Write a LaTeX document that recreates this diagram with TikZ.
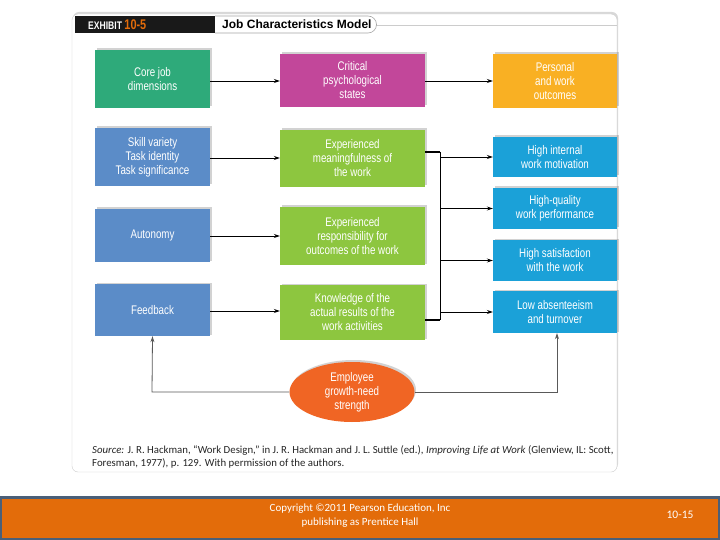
\documentclass[tikz,border=0pt]{standalone}
\usepackage{fontspec}
\setmainfont{Liberation Sans}
\newfontfamily\cond[FakeStretch=0.78]{Liberation Sans}
\newfontfamily\cali{Carlito}
\usetikzlibrary{arrows.meta,shapes.geometric,shadows}
\definecolor{cgreen}{HTML}{2EAA7A}
\definecolor{cmag}{HTML}{C2479A}
\definecolor{corange}{HTML}{F9B023}
\definecolor{cblue}{HTML}{5B8CC8}
\definecolor{clgreen}{HTML}{8DC63F}
\definecolor{ccyan}{HTML}{1BA1D8}
\definecolor{cell}{HTML}{F06524}
\definecolor{cfoot}{HTML}{E36C0A}
\definecolor{cbord}{HTML}{4A5F78}
\tikzset{
 bx/.style={draw=none,inner sep=0pt,align=center,text=white,font=\cond\fontsize{12.5}{14}\selectfont,drop shadow={shadow xshift=1.5pt,shadow yshift=1.5pt,opacity=0.35}},
 arr/.style={-{Stealth[length=6pt,width=4pt]},line width=0.7pt},
 gl/.style={line width=0.8pt,draw=black!65}
}
\begin{document}
\begin{tikzpicture}[x=1pt,y=-1pt]
\useasboundingbox (0,0) rectangle (720,540);
\fill[white] (0,0) rectangle (720,540);
% panel
\draw[draw=gray!40,fill=white,rounded corners=6pt,drop shadow={shadow xshift=1pt,shadow yshift=2pt,opacity=0.3}] (72,14) rectangle (617,472);
\fill[black!90] (75,16) rectangle (215,33);
\node[anchor=west,inner sep=0pt,text=white,font=\cond\bfseries\fontsize{11}{12}\selectfont] (ex) at (88,25) {EXHIBIT \textcolor{cfoot}{\fontsize{14}{14}\selectfont 10-5}};
\draw[gray!40] (376,25) -- (617,25);
\draw[gray!70,line width=0.6pt] (215,16) -- (368,16) arc[start angle=-90,end angle=90,radius=8.5] -- (215,33);
\node[anchor=west,inner sep=0pt,font=\fontsize{12}{13}\selectfont\bfseries] (tt) at (222,24.5) {Job Characteristics Model};
% row 0
\node[bx,fill=cgreen,minimum width=115,minimum height=58] (a0) at (152.5,79) {Core job\\dimensions};
\node[bx,fill=cmag,minimum width=145,minimum height=53] (b0) at (352.5,80.5) {Critical\\psychological\\states};
\node[bx,fill=corange,minimum width=124,minimum height=54] (c0) at (555,81) {Personal\\and work\\outcomes};
\draw[arr] (a0.east |- 0,81) -- (b0.west |- 0,81);
\draw[arr] (b0.east |- 0,81) -- (c0.west |- 0,81);
% column 1
\node[bx,fill=cblue,minimum width=115,minimum height=58] (a1) at (152.5,157) {Skill variety\\Task identity\\Task significance};
\node[bx,fill=cblue,minimum width=115,minimum height=53] (a2) at (152.5,235.5) {Autonomy};
\node[bx,fill=cblue,minimum width=115,minimum height=52] (a3) at (152.5,310) {Feedback};
% column 2
\node[bx,fill=clgreen,minimum width=145,minimum height=57] (b1) at (352.5,158.5) {Experienced\\meaningfulness of\\the work};
\node[bx,fill=clgreen,minimum width=145,minimum height=58] (b2) at (352.5,236) {Experienced\\responsibility for\\outcomes of the work};
\node[bx,fill=clgreen,minimum width=145,minimum height=55] (b3) at (352.5,312.5) {Knowledge of the\\actual results of the\\work activities};
\draw[arr] (a1.east |- 0,158) -- (b1.west |- 0,158);
\draw[arr] (a2.east |- 0,236) -- (b2.west |- 0,236);
\draw[arr] (a3.east |- 0,311) -- (b3.west |- 0,311);
% column 3
\node[bx,fill=ccyan,minimum width=124,minimum height=40] (c1) at (555,157) {High internal\\work motivation};
\node[bx,fill=ccyan,minimum width=124,minimum height=41] (c2) at (555,208.5) {High-quality\\work performance};
\node[bx,fill=ccyan,minimum width=124,minimum height=41] (c3) at (555,260.5) {High satisfaction\\with the work};
\node[bx,fill=ccyan,minimum width=124,minimum height=42] (c4) at (555,312) {Low absenteeism\\and turnover};
% bar
\coordinate (t) at (440,152);
\coordinate (bt) at (440,320);
\draw[line width=1.3pt] (b1.east |- t) -- (t);
\draw[line width=1.3pt] (b3.east |- bt) -- (bt);
\draw[line width=0.7pt] (t) -- (bt);
\draw[arr] (440,157) -- (c1.west);
\draw[arr,line width=1.2pt] (440,208.5) -- (c2.west);
\draw[arr] (440,260.5) -- (c3.west);
\draw[arr] (440,312) -- (c4.west);
% ellipse
\node[ellipse,fill=cell,minimum width=125,minimum height=60,inner sep=0pt,align=center,text=white,font=\cond\fontsize{12.5}{14}\selectfont,drop shadow={shadow xshift=1.5pt,shadow yshift=2pt,opacity=0.35}] (e) at (352,392) {Employee\\growth-need\\strength};
\draw[gl,-{Stealth[length=6pt,width=4pt]}] (e.west) -- (152,392) -- (a3.south);
\draw[gl,-{Stealth[length=6pt,width=4pt]}] (e.east) -- (557,392) -- (c4.south -| 557,0);
% source
\node[anchor=west,inner sep=0pt,align=left,font=\cali\fontsize{10.8}{13}\selectfont,text=black!85] (src) at (92,456.5) {\textit{Source:} J. R. Hackman, “Work Design,” in J. R. Hackman and J. L. Suttle (ed.), \textit{Improving Life at Work} (Glenview, IL: Scott,\\Foresman, 1977), p. 129. With permission of the authors.};
% footer
\fill[cbord] (0,496) rectangle (720,540);
\fill[cfoot] (2,499) rectangle (718,538);
\node[align=center,inner sep=0pt,text=white,font=\cali\fontsize{11}{14.5}\selectfont] (cp) at (360,515.5) {Copyright ©2011 Pearson Education, Inc\\publishing as Prentice Hall};
\node[inner sep=0pt,text=white,font=\cali\fontsize{11.5}{12}\selectfont] (pg) at (680,515) {10-15};
\end{tikzpicture}
\end{document}
